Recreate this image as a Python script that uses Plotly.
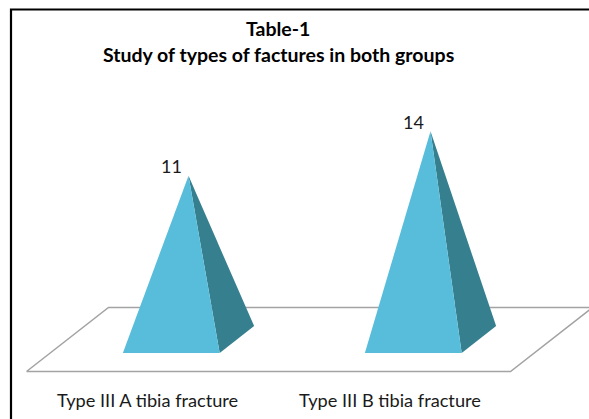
import plotly.graph_objects as go

# Chart data
categories = ["Type III A tibia fracture", "Type III B tibia fracture"]
counts = [11, 14]
title_lines = ["Table-1", "Study of types of factures in both groups"]

# Figure size and pixel geometry of the oblique 3-D projection
W, H = 589, 419
PX_PER_CAT = 242.0        # horizontal pixels per category
CAT0_PX = 147.5           # pixel x of the first category centre
PX_PER_VAL = 14.88        # vertical pixels per count unit
FLOOR_FRONT_PX = 371.5    # pixel y of the front edge of the floor

DEPTH_DX = 82.0 / PX_PER_CAT    # floor depth offset along x (category units)
DEPTH_DY = 64.0 / PX_PER_VAL    # floor depth offset along y (value units)
BAR_WIDTH = 0.4
D_FRONT, D_BACK = 0.29, 0.71    # depth span of each pyramid base

FRONT_COLOR = "#57BDDA"
SIDE_COLOR = "#367F8F"
FLOOR_LINE = "#A3A3A3"


def project(x, d, h):
    """Oblique projection of (category x, depth fraction d, height h)."""
    return x + d * DEPTH_DX, h + d * DEPTH_DY


fig = go.Figure()

# Floor parallelogram
floor_pts = [project(-0.5, 0, 0), project(1.5, 0, 0),
             project(1.5, 1, 0), project(-0.5, 1, 0), project(-0.5, 0, 0)]
fig.add_trace(go.Scatter(
    x=[p[0] for p in floor_pts], y=[p[1] for p in floor_pts],
    mode="lines", fill="toself", fillcolor="white",
    line=dict(color=FLOOR_LINE, width=1.5),
    hoverinfo="skip", showlegend=False))

# Pyramids: visible front and right faces
for i, (cat, val) in enumerate(zip(categories, counts)):
    xl, xr = i - BAR_WIDTH / 2, i + BAR_WIDTH / 2
    apex = project(i, (D_FRONT + D_BACK) / 2, val)
    fl = project(xl, D_FRONT, 0)
    fr = project(xr, D_FRONT, 0)
    br = project(xr, D_BACK, 0)

    side = [fr, br, apex, fr]
    fig.add_trace(go.Scatter(
        x=[p[0] for p in side], y=[p[1] for p in side],
        mode="lines", fill="toself", fillcolor=SIDE_COLOR,
        line=dict(width=0, color=SIDE_COLOR),
        hoverinfo="skip", showlegend=False))

    front = [fl, fr, apex, fl]
    fig.add_trace(go.Scatter(
        x=[p[0] for p in front], y=[p[1] for p in front],
        mode="lines", fill="toself", fillcolor=FRONT_COLOR,
        line=dict(width=0, color=FRONT_COLOR),
        hoverinfo="skip", showlegend=False))

    # value label above the front of the pyramid top
    lx, ly = project(i, D_FRONT, val)
    fig.add_annotation(x=lx, y=ly, text=str(val), showarrow=False,
                       xanchor="center", yanchor="middle", yshift=23,
                       font=dict(family="Lato", size=18, color="#1a1a1a"))

    # category label under the floor
    fig.add_annotation(x=i, y=0, text=cat, showarrow=False,
                       xanchor="center", yanchor="middle", yshift=-28,
                       font=dict(family="Lato", size=18.2, color="#1a1a1a"))

# Title lines
fig.add_annotation(x=278 / W, y=1 - 29 / H, xref="paper", yref="paper",
                   text="<b>%s</b>" % title_lines[0], showarrow=False,
                   xanchor="center", yanchor="middle",
                   font=dict(family="Lato", size=19.5, color="black"))
fig.add_annotation(x=278 / W, y=1 - 55 / H, xref="paper", yref="paper",
                   text="<b>%s</b>" % title_lines[1], showarrow=False,
                   xanchor="center", yanchor="middle",
                   font=dict(family="Lato", size=19.5, color="black"))

# Chart frame (runs off the right and bottom edges)
fig.add_shape(type="rect", xref="paper", yref="paper",
              x0=11 / W, x1=1.05, y0=-0.05, y1=1 - 9.5 / H,
              line=dict(color="black", width=2.2), fillcolor="rgba(0,0,0,0)")

x_min = -CAT0_PX / PX_PER_CAT
x_max = (W - CAT0_PX) / PX_PER_CAT
y_max = FLOOR_FRONT_PX / PX_PER_VAL
y_min = -(H - FLOOR_FRONT_PX) / PX_PER_VAL

axis_off = dict(showgrid=False, zeroline=False, showticklabels=False,
                showline=False, ticks="")
fig.update_layout(
    width=W, height=H,
    margin=dict(l=0, r=0, t=0, b=0),
    paper_bgcolor="white", plot_bgcolor="white",
    xaxis=dict(range=[x_min, x_max], domain=[0, 1], fixedrange=True, **axis_off),
    yaxis=dict(range=[y_min, y_max], domain=[0, 1], fixedrange=True, **axis_off),
    showlegend=False,
)

fig.write_html("out.html")
